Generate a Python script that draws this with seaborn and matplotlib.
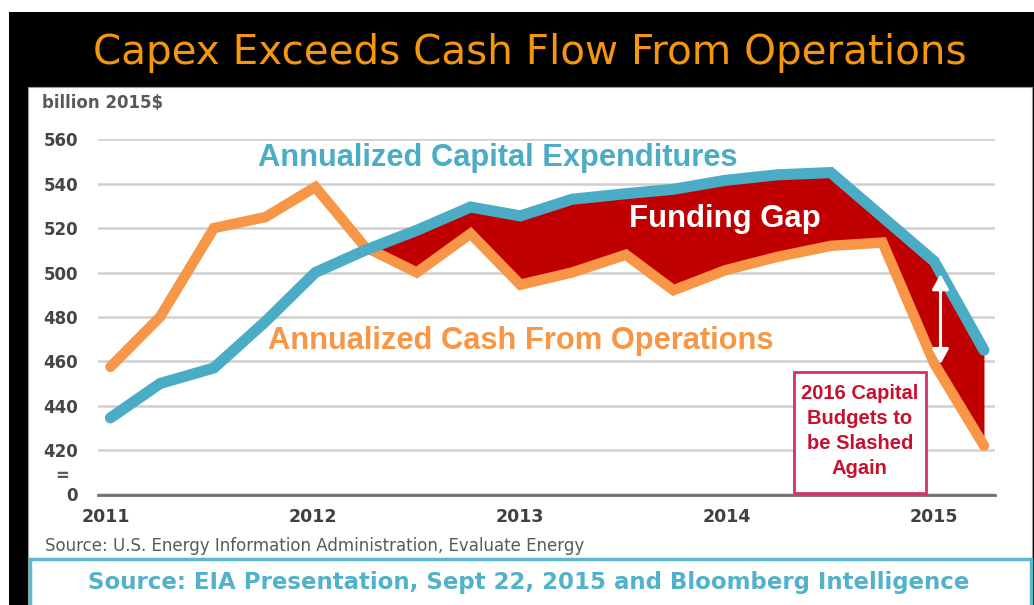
import numpy as np
import pandas as pd
import matplotlib
matplotlib.use("Agg")
import matplotlib.pyplot as plt
from matplotlib.patches import Rectangle
from matplotlib.transforms import ScaledTranslation
import seaborn as sns

# ---- data ----
quarters = [2011.06, 2011.30, 2011.56, 2011.81, 2012.05, 2012.29, 2012.54, 2012.80,
            2013.04, 2013.29, 2013.55, 2013.78, 2014.03, 2014.28, 2014.54, 2014.79,
            2015.04, 2015.28]
capex = [434.5, 450, 457, 478, 500, 510, 519, 529.5,
         525.5, 533, 535.5, 537.5, 541.5, 544, 545, 525,
         505, 465]
cash_ops = [457.5, 480, 520, 525, 538.5, 511.5, 500, 517.5,
            494.5, 500, 508, 492, 501, 507, 512, 513.5,
            459, 422]
year_ticks = [2011, 2012, 2013, 2014, 2015]
year_labels = ["2011", "2012", "2013", "2014", "2015"]
y_ticks = [400, 420, 440, 460, 480, 500, 520, 540, 560]
y_labels = ["0", "420", "440", "460", "480", "500", "520", "540", "560"]

BLUE = "#4BACC6"
ORANGE = "#F79646"
RED = "#C00000"

sns.set_style("white")
plt.rcParams["font.family"] = ["Liberation Sans", "DejaVu Sans"]

W, H = 1034, 605
fig = plt.figure(figsize=(W / 100, H / 100), dpi=100)
fig.patch.set_facecolor("white")

# background frame
fig.patches.append(Rectangle((9 / W, 0), 1 - 9 / W, 1 - 12 / H, transform=fig.transFigure,
                             facecolor="black", edgecolor="none", zorder=0))
fig.patches.append(Rectangle((28 / W, 0), (1032 - 28) / W, 1 - 87 / H, transform=fig.transFigure,
                             facecolor="white", edgecolor="#9a9a9a", lw=0.8, zorder=0.5))
fig.patches.append(Rectangle((30 / W, -0.02), (1031 - 30) / W, 1 - 559 / H + 0.02,
                             transform=fig.transFigure, facecolor="white",
                             edgecolor="#5BB8D0", lw=2.5, zorder=0.6))

ax = fig.add_axes([98 / W, 1 - 494.5 / H, (995 - 98) / W, (494.5 - 139.3) / H])
ax.set_facecolor("none")
ax.set_zorder(2)

df = pd.DataFrame({"quarter": quarters, "capex": capex, "cash": cash_ops})

cx = np.array(capex)
co = np.array(cash_ops)
ax.fill_between(quarters, co, cx, where=cx >= co, interpolate=True,
                color=RED, lw=0, zorder=2)
sns.lineplot(data=df, x="quarter", y="cash", color=ORANGE, linewidth=7.5, ax=ax,
             zorder=3, sort=False)
sns.lineplot(data=df, x="quarter", y="capex", color=BLUE, linewidth=8, ax=ax,
             zorder=4, sort=False)
for ln in ax.lines:
    ln.set_solid_joinstyle("miter")

ax.set_xlim(2011, 2011 + (995 - 98) / 207)
ax.set_ylim(400, 560)
ax.set_xticks(year_ticks)
ax.set_xticklabels(year_labels, fontsize=12.5, fontweight="bold", color="#404040",
                   family=["DejaVu Sans"])
ax.set_yticks(y_ticks)
ax.set_yticklabels(y_labels, fontsize=12, fontweight="bold", color="#454545",
                   family=["DejaVu Sans"])
ax.set_xlabel("")
ax.set_ylabel("")
ax.yaxis.grid(True, color="#D0D0D0", lw=1.8)
ax.xaxis.grid(False)
ax.set_axisbelow(True)
for s in ["left", "right", "top"]:
    ax.spines[s].set_visible(False)
ax.spines["bottom"].set_color("#6F6F6F")
ax.spines["bottom"].set_linewidth(2)
ax.spines["bottom"].set_zorder(5)
ax.tick_params(axis="y", length=0, pad=14.4)
ax.tick_params(axis="x", length=3, width=1.5, color="#505050", direction="out", pad=6.5)
shift = ScaledTranslation(8 / 100, 0, fig.dpi_scale_trans)
for lab in ax.get_xticklabels():
    lab.set_transform(lab.get_transform() + shift)

# annotations
ax.text(2012.93, 551.5, "Annualized Capital Expenditures", color=BLUE, fontsize=22.2,
        fontweight="bold", ha="center", va="center", zorder=6)
ax.text(2013.04, 469, "Annualized Cash From Operations", color=ORANGE, fontsize=22.2,
        fontweight="bold", ha="center", va="center", zorder=6)
ax.text(2014.03, 524, "Funding Gap", color="white", fontsize=22.4,
        fontweight="bold", ha="center", va="center", zorder=6)
ax.annotate("", xy=(2015.07, 500.5), xytext=(2015.07, 457.5),
            arrowprops=dict(arrowstyle="<|-|>,head_length=0.9,head_width=0.5",
                            color="white", lw=2.2), zorder=6)
ax.add_patch(Rectangle((2014.36, 400.8), 0.64, 54.4, facecolor="white",
                       edgecolor="#D3336A", lw=2, zorder=6))
ax.text(2014.68, 428.5, "2016 Capital\nBudgets to\nbe Slashed\nAgain", color="#C8102E",
        fontsize=14.5, fontweight="bold", ha="center", va="center", linespacing=1.4,
        zorder=7)

# figure texts
fig.text(42 / W, 1 - 103 / H, "billion 2015$", fontsize=12, fontweight="bold",
         color="#595959", ha="left", va="center", family=["DejaVu Sans"])
fig.text(62 / W, 1 - 476 / H, "=", fontsize=12, fontweight="bold",
         color="#595959", ha="center", va="center", family=["DejaVu Sans"])
fig.text(45 / W, 1 - 546 / H, "Source: U.S. Energy Information Administration, Evaluate Energy",
         fontsize=12, color="#595959", ha="left", va="center", family=["DejaVu Sans"])
fig.text(530 / W, 1 - 64 / H, "Capex Exceeds Cash Flow From Operations", fontsize=29.2,
         color="#F5960F", ha="center", va="baseline", family=["DejaVu Sans"])
fig.text(529 / W, 1 - 589 / H, "Source: EIA Presentation, Sept 22, 2015 and Bloomberg Intelligence",
         fontsize=16.5, fontweight="bold", color="#52B2CC", ha="center", va="baseline",
         family=["DejaVu Sans"], zorder=3)

fig.savefig("out.png", dpi=100)
